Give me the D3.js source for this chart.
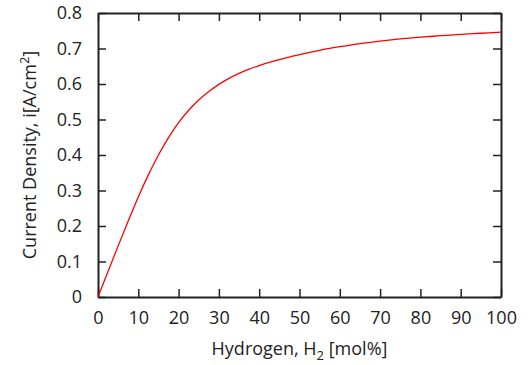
<!DOCTYPE html>
<html><head><meta charset="utf-8">
<script src="https://cdn.jsdelivr.net/npm/d3@7"></script>
<style>body{margin:0;background:#fff}svg{display:block}text{font-family:"Open Sans",sans-serif;fill:#222}</style>
</head><body><svg id="c" width="531" height="365"></svg>
<script>
const hydrogen = [0,2.5,5,7.5,10,12.5,15,17.5,20,22.5,25,27.5,30,32.5,35,37.5,40,42.5,45,47.5,50,55,60,65,70,75,80,85,90,95,100];
const currentDensity = [0,0.072,0.144,0.214,0.282,0.344,0.400,0.449,0.491,0.526,0.555,0.579,0.599,0.616,0.630,0.642,0.652,0.661,0.669,0.676,0.683,0.695,0.705,0.714,0.721,0.727,0.732,0.736,0.740,0.743,0.746];
const xTicks = [0,10,20,30,40,50,60,70,80,90,100];
const yTicks = [0,0.1,0.2,0.3,0.4,0.5,0.6,0.7,0.8];

const svg = d3.select("#c");
const m = {l:98, r:30, t:13, b:68};
const W = 531, H = 365;
const x = d3.scaleLinear().domain([0,100]).range([m.l, W-m.r]);
const y = d3.scaleLinear().domain([0,0.8]).range([H-m.b, m.t]);
const tl = 8, fs = 18;
const fmtY = d => d===0 ? "0" : d3.format(".1f")(d);

const gB = svg.append("g").attr("transform",`translate(0,${y(0)})`)
  .call(d3.axisBottom(x).tickValues(xTicks).tickSizeInner(-tl).tickSizeOuter(0).tickPadding(tl+6));
const gT = svg.append("g").attr("transform",`translate(0,${y(0.8)})`)
  .call(d3.axisTop(x).tickValues(xTicks).tickSizeInner(-tl).tickSizeOuter(0).tickFormat(""));
const gL = svg.append("g").attr("transform",`translate(${x(0)},0)`)
  .call(d3.axisLeft(y).tickValues(yTicks).tickSizeInner(-tl).tickSizeOuter(0).tickPadding(tl+8).tickFormat(fmtY));
const gR = svg.append("g").attr("transform",`translate(${x(100)},0)`)
  .call(d3.axisRight(y).tickValues(yTicks).tickSizeInner(-tl).tickSizeOuter(0).tickFormat(""));
[gB,gT,gL,gR].forEach(g=>{
  g.select(".domain").attr("stroke","#222").attr("stroke-width",2);
  g.selectAll(".tick line").attr("stroke","#222").attr("stroke-width",1.5);
  g.selectAll("text").attr("font-size",fs).attr("font-family",'"Open Sans",sans-serif').attr("fill","#222");
});

const line = d3.line().x((d,i)=>x(hydrogen[i])).y(d=>y(d)).curve(d3.curveCatmullRom);
svg.append("path").datum(currentDensity).attr("d",line)
  .attr("fill","none").attr("stroke","#f00").attr("stroke-width",1.3);

const xl = svg.append("text").attr("x",(x(0)+x(100))/2).attr("y",355)
  .attr("text-anchor","middle").attr("font-size",fs);
xl.append("tspan").text("Hydrogen, H");
xl.append("tspan").attr("font-size",13).attr("dy",5).text("2");
xl.append("tspan").attr("dy",-5).text(" [mol%]");

const yl = svg.append("text").attr("transform",`translate(36,${(y(0)+y(0.8))/2}) rotate(-90)`)
  .attr("text-anchor","middle").attr("font-size",fs);
yl.append("tspan").text("Current Density, i[A/cm");
yl.append("tspan").attr("font-size",13).attr("dy",-7).text("2");
yl.append("tspan").attr("dy",7).text("]");
</script></body></html>
